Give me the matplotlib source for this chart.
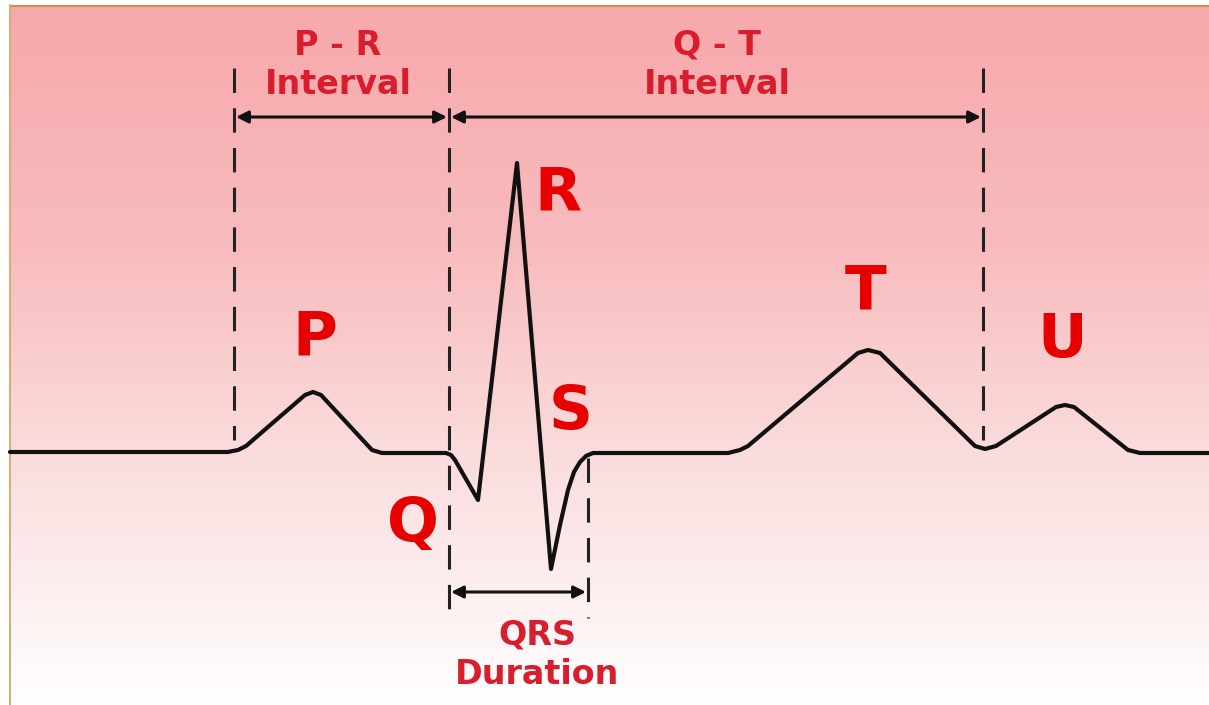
import numpy as np
import matplotlib.pyplot as plt
from matplotlib.colors import LinearSegmentedColormap

# ECG trace, in picture coordinates (x right, y down)
trace_x = [10, 228, 238, 246, 305, 313, 321, 372, 382, 446, 451, 455, 478,
           517, 551, 560, 568, 574, 580, 586, 593, 600, 728, 740, 748,
           858, 868, 880, 975, 985, 996, 1056, 1065, 1074, 1128, 1140, 1209]
trace_y = [452, 452, 450, 446, 395, 392, 395, 450, 453, 453, 455, 460, 500,
           163, 569, 525, 490, 472, 462, 456, 453, 453, 453, 450, 446,
           353, 350, 353, 446, 449, 446, 407, 405, 407, 450, 453, 453]

# dashed markers: x, y top, y bottom
mark_x = [234, 449, 983, 588]
mark_top = [68, 68, 68, 458]
mark_bot = [440, 618, 440, 618]

# interval arrows: start, end, y
arrow_x0 = [234, 449, 449]
arrow_x1 = [449, 983, 588]
arrow_y = [117, 117, 592]

interval_labels = ["P - R\nInterval", "Q - T\nInterval", "QRS\nDuration"]
interval_pos = [(338, 65), (717, 65), (537, 655)]

wave_labels = ["P", "Q", "R", "S", "T", "U"]
wave_pos = [(315, 338), (413, 524), (558, 194), (571, 413), (866, 293), (1062, 340)]

W, H = 1209, 705
fig = plt.figure(figsize=(W / 100, H / 100), dpi=100)
ax = fig.add_axes([0, 0, 1, 1])
ax.set_xlim(0, W)
ax.set_ylim(H, 0)
ax.axis("off")

# background gradient
cmap = LinearSegmentedColormap.from_list(
    "bg", [(0, (247/255, 168/255, 171/255)),
           (0.35, (248/255, 188/255, 190/255)),
           (0.62, (250/255, 218/255, 218/255)),
           (0.85, (253/255, 240/255, 240/255)),
           (1, (1, 1, 1))])
grad = np.linspace(0, 1, 256).reshape(-1, 1)
ax.imshow(grad, cmap=cmap, extent=[10, W, H, 6], aspect="auto", zorder=0)
ax.plot([10, W], [5.5, 5.5], color="#c8954a", lw=1.5, zorder=1)
ax.plot([9.5, 9.5], [5, H], color="#d2b07a", lw=1.5, zorder=1)

ax.plot(trace_x, trace_y, color="#111111", lw=3, solid_joinstyle="round",
        solid_capstyle="round", zorder=3)

for x, y0, y1 in zip(mark_x, mark_top, mark_bot):
    ax.plot([x, x], [y0, y1], color="#222222", lw=2.2,
            dashes=(8, 5), zorder=2)

for x0, x1, y in zip(arrow_x0, arrow_x1, arrow_y):
    ax.annotate("", xy=(x0 + 2, y), xytext=(x1 - 2, y),
                arrowprops=dict(arrowstyle="<|-|>", color="#111111", lw=2.2,
                                mutation_scale=18, shrinkA=0, shrinkB=0),
                zorder=3)

for txt, (x, y) in zip(interval_labels, interval_pos):
    ax.text(x, y, txt, color="#d81e2d", fontsize=24, fontweight="bold",
            ha="center", va="center", linespacing=1.25, zorder=4)

for txt, (x, y) in zip(wave_labels, wave_pos):
    ax.text(x, y, txt, color="#e60000", fontsize=44, fontweight="bold",
            ha="center", va="center", zorder=4)

fig.savefig("out.png", dpi=100)
